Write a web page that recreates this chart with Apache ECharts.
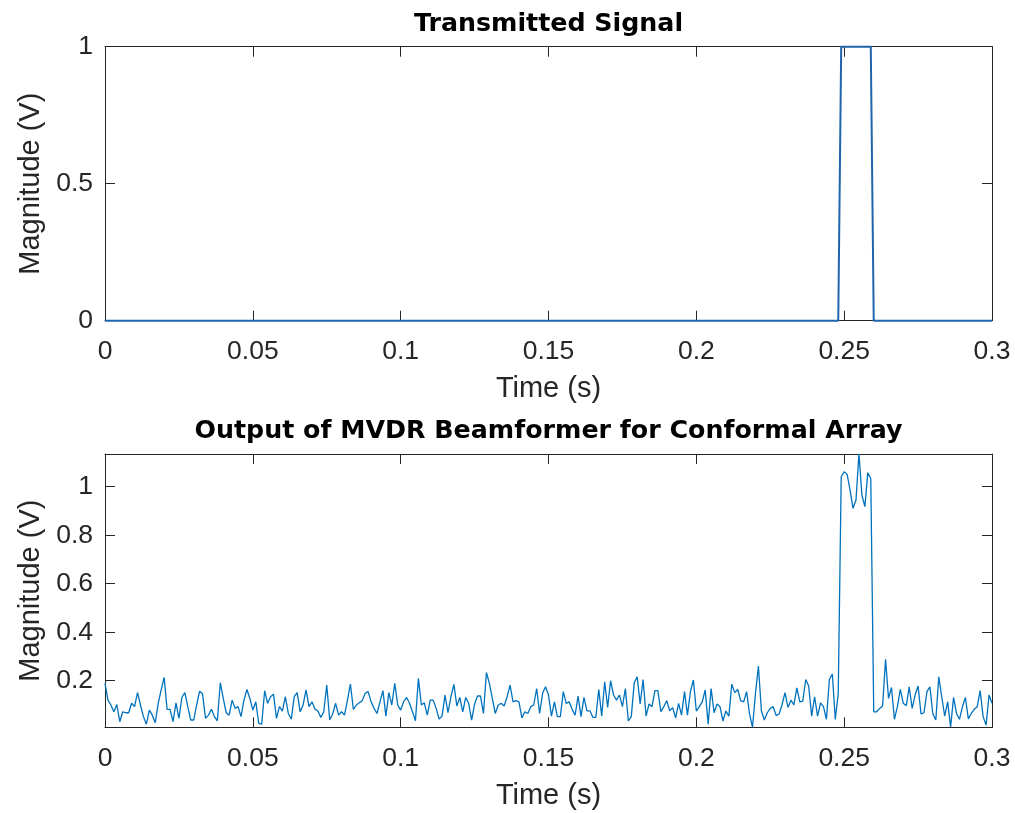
<!DOCTYPE html>
<html>
<head>
<meta charset="utf-8">
<script src="https://cdn.jsdelivr.net/npm/echarts@6/dist/echarts.min.js"></script>
<style>
html,body{margin:0;padding:0;background:#fff;}
#chart{width:1015px;height:813px;}
</style>
</head>
<body>
<div id="chart"></div>
<script>
// ---- Data ----
const xTickStep = 0.05;
const topTitle = 'Transmitted Signal';
const bottomTitle = 'Output of MVDR Beamformer for Conformal Array';
const xLabel = 'Time (s)';
const yLabel = 'Magnitude (V)';

// Transmitted rectangular pulse (breakpoints)
const pulseTime = [0, 0.248, 0.249, 0.259, 0.260, 0.3];
const pulseValue = [0, 0, 1, 1, 0, 0];

// Beamformer output, sampled every 1 ms from 0 to 0.3 s
const sampleStep = 0.001;
const beamOut = [
0.189,0.120,0.100,0.072,0.102,0.031,0.072,0.068,0.068,0.107,
0.093,0.151,0.100,0.052,0.021,0.079,0.058,0.027,0.107,0.162,
0.214,0.082,0.082,0.031,0.109,0.045,0.131,0.151,0.093,0.038,
0.038,0.100,0.157,0.145,0.045,0.058,0.082,0.052,0.035,0.192,
0.127,0.068,0.058,0.120,0.086,0.093,0.052,0.120,0.164,0.127,
0.079,0.113,0.024,0.021,0.159,0.107,0.134,0.144,0.045,0.093,
0.075,0.134,0.065,0.042,0.134,0.151,0.072,0.100,0.162,0.093,
0.113,0.083,0.075,0.049,0.072,0.182,0.038,0.063,0.107,0.058,
0.072,0.058,0.120,0.186,0.082,0.100,0.109,0.118,0.148,0.155,
0.113,0.086,0.065,0.113,0.159,0.054,0.151,0.100,0.189,0.100,
0.079,0.113,0.131,0.107,0.072,0.035,0.210,0.100,0.109,0.058,
0.120,0.120,0.086,0.042,0.054,0.141,0.068,0.134,0.185,0.096,
0.131,0.072,0.131,0.107,0.038,0.104,0.137,0.137,0.065,0.234,
0.189,0.127,0.065,0.100,0.107,0.096,0.134,0.182,0.113,0.118,
0.113,0.047,0.072,0.065,0.093,0.100,0.168,0.065,0.148,0.175,
0.141,0.054,0.113,0.052,0.052,0.155,0.107,0.113,0.082,0.058,
0.137,0.052,0.131,0.076,0.076,0.049,0.049,0.164,0.054,0.196,
0.090,0.200,0.141,0.120,0.141,0.093,0.168,0.034,0.052,0.192,
0.216,0.104,0.205,0.054,0.104,0.093,0.159,0.159,0.072,0.093,
0.118,0.076,0.089,0.047,0.107,0.058,0.155,0.058,0.155,0.203,
0.075,0.093,0.113,0.162,0.021,0.168,0.068,0.104,0.093,0.034,
0.075,0.054,0.186,0.151,0.164,0.118,0.113,0.155,0.063,0.008,
0.148,0.260,0.076,0.038,0.068,0.086,0.093,0.056,0.063,0.102,
0.151,0.090,0.120,0.100,0.171,0.113,0.116,0.205,0.178,0.054,
0.134,0.054,0.109,0.093,0.041,0.205,0.228,0.040,0.148,1.041,
1.062,1.051,0.986,0.911,0.945,1.135,0.966,0.918,1.058,1.034,
0.072,0.072,0.086,0.096,0.288,0.127,0.172,0.041,0.093,0.164,
0.107,0.097,0.175,0.086,0.141,0.178,0.063,0.068,0.155,0.175,
0.063,0.038,0.216,0.134,0.054,0.113,0.010,0.131,0.065,0.041,
0.093,0.131,0.043,0.065,0.082,0.093,0.159,0.052,0.017,0.141,
0.107
];

const topYTicks = [0, 0.5, 1];
const bottomYTicks = [0.2, 0.4, 0.6, 0.8, 1];
const bottomYMin = 0.008;
const bottomYMax = 1.135;

// ---- Build ----
const pulseData = pulseTime.map((t, i) => [t, pulseValue[i]]);
const beamData = beamOut.map((v, i) => [+(i * sampleStep).toFixed(3), v]);

const axisColor = '#262626';
const tickFont = 'Liberation Sans, Arial, sans-serif';
const lineStyle = { color: axisColor, width: 1 };

function xAxisDef(grid, pos, withLabels) {
  return {
    type: 'value', gridIndex: grid, position: pos,
    min: 0, max: 0.3, interval: xTickStep,
    axisLine: { show: true, onZero: false, lineStyle },
    axisTick: { show: true, inside: true, length: 10, lineStyle },
    axisLabel: withLabels ? { show: true, margin: 17.5, fontSize: 26.5, color: axisColor, fontFamily: tickFont } : { show: false },
    splitLine: { show: false },
    name: withLabels ? xLabel : '',
    nameLocation: 'middle', nameGap: 54,
    nameTextStyle: { fontSize: 29, color: axisColor, fontFamily: tickFont }
  };
}
function yAxisDef(grid, pos, withLabels, min, max, ticks, interval) {
  const ax = {
    type: 'value', gridIndex: grid, position: pos,
    min, max,
    axisLine: { show: true, onZero: false, lineStyle },
    axisTick: { show: true, inside: true, length: 10, lineStyle, customValues: ticks },
    axisLabel: withLabels ? { show: true, margin: 12, fontSize: 26.5, color: axisColor, fontFamily: tickFont, customValues: ticks } : { show: false, customValues: ticks },
    splitLine: { show: false },
    name: withLabels ? yLabel : '',
    nameLocation: 'middle', nameGap: 60,
    nameTextStyle: { fontSize: 29, color: axisColor, fontFamily: tickFont }
  };
  if (interval) ax.interval = interval;
  return ax;
}

const titleStyle = { fontFamily: 'DejaVu Sans', fontWeight: 'bold', fontSize: 25.3, color: '#000' };

const option = {
  animation: false,
  backgroundColor: '#fff',
  title: [
    { text: topTitle, left: 548.5, top: 12, textAlign: 'center', padding: 0, textStyle: titleStyle },
    { text: bottomTitle, left: 548.5, top: 419, textAlign: 'center', padding: 0, textStyle: titleStyle }
  ],
  grid: [
    { left: 105, top: 46.7, width: 887, height: 274, outerBoundsMode: 'none', containLabel: false },
    { left: 105, top: 454, width: 887, height: 273.3, outerBoundsMode: 'none', containLabel: false }
  ],
  xAxis: [
    xAxisDef(0, 'bottom', true),
    xAxisDef(0, 'top', false),
    xAxisDef(1, 'bottom', true),
    xAxisDef(1, 'top', false)
  ],
  yAxis: [
    yAxisDef(0, 'left', true, 0, 1, topYTicks, 0.5),
    yAxisDef(0, 'right', false, 0, 1, topYTicks, 0.5),
    yAxisDef(1, 'left', true, bottomYMin, bottomYMax, bottomYTicks),
    yAxisDef(1, 'right', false, bottomYMin, bottomYMax, bottomYTicks)
  ],
  series: [
    {
      type: 'line', xAxisIndex: 0, yAxisIndex: 0, data: pulseData,
      showSymbol: false, symbol: 'none', clip: false, z: 5,
      lineStyle: { color: '#1f65ad', width: 2 }
    },
    {
      type: 'line', xAxisIndex: 2, yAxisIndex: 2, data: beamData,
      showSymbol: false, symbol: 'none', clip: true, z: 5,
      lineStyle: { color: '#0072BD', width: 1.3 }
    }
  ]
};

const chart = echarts.init(document.getElementById('chart'), null, { renderer: 'canvas' });
chart.setOption(option);
</script>
</body>
</html>
